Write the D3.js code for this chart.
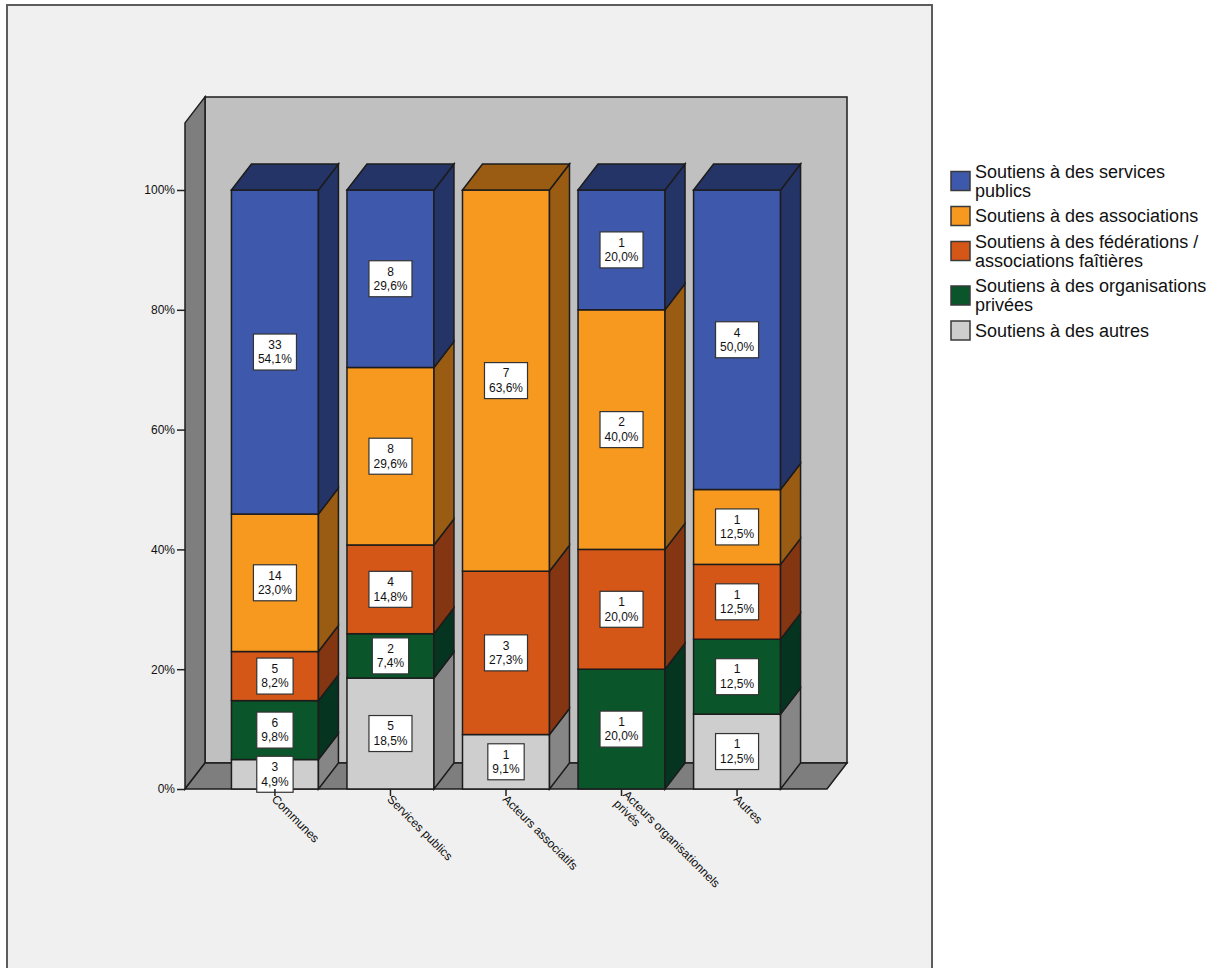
<!DOCTYPE html>
<html>
<head>
<meta charset="utf-8">
<script src="https://cdn.jsdelivr.net/npm/d3@7"></script>
<style>
  body { margin: 0; background: #ffffff; }
  svg { display: block; font-family: "Liberation Sans", Arial, sans-serif; }
</style>
</head>
<body>
<svg id="chart" width="1219" height="968"></svg>
<script>
// Categories on the x axis (label lines for the rotated tick labels)
const categories = ["Communes", "Services publics", "Acteurs associatifs", "Acteurs organisationnels privés", "Autres"];
const categoryLines = [["Communes"], ["Services publics"], ["Acteurs associatifs"], ["Acteurs organisationnels", "privés"], ["Autres"]];

// Series (legend order, top to bottom)
const seriesKeys = ["services", "associations", "federations", "privees", "autres"];
const seriesLegend = [
  ["Soutiens à des services", "publics"],
  ["Soutiens à des associations"],
  ["Soutiens à des fédérations /", "associations faîtières"],
  ["Soutiens à des organisations", "privées"],
  ["Soutiens à des autres"]
];

// Counts per category, one array per series
const servicesPublics      = [33, 8, 0, 1, 4];
const associations         = [14, 8, 7, 2, 1];
const federations          = [5, 4, 3, 1, 1];
const organisationsPrivees = [6, 2, 0, 1, 1];
const autres               = [3, 5, 1, 0, 1];

// Y axis ticks
const yTicks = [0, 0.2, 0.4, 0.6, 0.8, 1.0];
const yTickLabels = ["0%", "20%", "40%", "60%", "80%", "100%"];

// Colours: front face / shaded side and top faces
const frontColor = { services: "#3e58ab", associations: "#f7991f", federations: "#d45717", privees: "#0b552a", autres: "#cecece" };
const sideColor  = { services: "#243466", associations: "#9a5b13", federations: "#843511", privees: "#053520", autres: "#868686" };

const table = categories.map((c, i) => ({
  category: c,
  services: servicesPublics[i],
  associations: associations[i],
  federations: federations[i],
  privees: organisationsPrivees[i],
  autres: autres[i]
}));
const totals = table.map(r => seriesKeys.reduce((s, k) => s + r[k], 0));

const svg = d3.select("#chart");

// Outer panel
svg.append("rect")
  .attr("x", 7).attr("y", 5).attr("width", 925).attr("height", 990)
  .attr("fill", "#f0f0f0").attr("stroke", "#5c5c5c").attr("stroke-width", 2);

// Scales
const x = d3.scaleBand().domain(categories).range([185, 827]).paddingInner(0.247).paddingOuter(0.402);
const y = d3.scaleLinear().domain([0, 1]).range([789, 190]);
const yMax = 1.112;           // top of the 3D box
const DX = 20, DY = -26;      // depth offset of the 3D projection

const [xl, xr] = x.range();
const y0 = y(0), yTop = y(yMax);
const line = d3.line();
const edge = "#1c1c1c";

// Back wall
svg.append("path")
  .attr("d", line([[xl + DX, yTop + DY], [xr + DX, yTop + DY], [xr + DX, y0 + DY], [xl + DX, y0 + DY]]) + "Z")
  .attr("fill", "#c0c0c0").attr("stroke", edge).attr("stroke-width", 1.5);
// Left wall
svg.append("path")
  .attr("d", line([[xl, y0], [xl, yTop], [xl + DX, yTop + DY], [xl + DX, y0 + DY]]) + "Z")
  .attr("fill", "#7e7e7e").attr("stroke", edge).attr("stroke-width", 1.5);
// Floor
svg.append("path")
  .attr("d", line([[xl, y0], [xl + DX, y0 + DY], [xr + DX, y0 + DY], [xr, y0]]) + "Z")
  .attr("fill", "#7e7e7e").attr("stroke", edge).attr("stroke-width", 1.5);

// Stacked shares (bottom = "autres", top = "services")
const stack = d3.stack().keys(seriesKeys.slice().reverse()).offset(d3.stackOffsetExpand);
const layers = stack(table);

const bw = x.bandwidth();
const barsG = svg.append("g");
const labelsG = svg.append("g");

layers.forEach(layer => {
  const key = layer.key;
  layer.forEach((d, i) => {
    if (d[1] - d[0] <= 0) return;
    const x0 = x(d.data.category), x1 = x0 + bw;
    const yT = y(d[1]), yB = y(d[0]);
    // front face
    barsG.append("rect")
      .attr("x", x0).attr("y", yT).attr("width", bw).attr("height", yB - yT)
      .attr("fill", frontColor[key]).attr("stroke", edge).attr("stroke-width", 1.5);
    // right side face
    barsG.append("path")
      .attr("d", line([[x1, yT], [x1 + DX, yT + DY], [x1 + DX, yB + DY], [x1, yB]]) + "Z")
      .attr("fill", sideColor[key]).attr("stroke", edge).attr("stroke-width", 1.5);
    // top face on the highest segment
    if (Math.abs(d[1] - 1) < 1e-9) {
      barsG.append("path")
        .attr("d", line([[x0, yT], [x0 + DX, yT + DY], [x1 + DX, yT + DY], [x1, yT]]) + "Z")
        .attr("fill", sideColor[key]).attr("stroke", edge).attr("stroke-width", 1.5);
    }
    // value label: count and column percentage
    const count = d.data[key];
    const pct = d3.format(".1f")(count / totals[i] * 100).replace(".", ",") + "%";
    const g = labelsG.append("g")
      .attr("transform", `translate(${x0 + bw / 2},${(yT + yB) / 2})`);
    const box = g.append("rect").attr("fill", "#ffffff").attr("stroke", "#333").attr("stroke-width", 1.2);
    const tg = g.append("g").attr("transform", "scale(1,1.1)");
    const t1 = tg.append("text").attr("text-anchor", "middle").attr("y", -2.9)
      .attr("font-size", 12).attr("fill", "#111").text(count);
    const t2 = tg.append("text").attr("text-anchor", "middle").attr("y", 10.3)
      .attr("font-size", 12).attr("fill", "#111").text(pct);
    const w = Math.max(t1.node().getComputedTextLength(), t2.node().getComputedTextLength()) + 9;
    box.attr("x", -w / 2).attr("y", -18).attr("width", w).attr("height", 36);
  });
});

// Y axis (the wall edge serves as the axis line)
const yAxis = svg.append("g")
  .attr("transform", `translate(${xl},0)`)
  .call(d3.axisLeft(y).tickValues(yTicks).tickFormat((d, i) => yTickLabels[i]).tickSize(8).tickPadding(2));
yAxis.select(".domain").remove();
yAxis.selectAll(".tick line").attr("stroke", "#222").attr("stroke-width", 1.5);
yAxis.selectAll(".tick text").attr("font-size", 12).attr("fill", "#111")
  .attr("font-family", "'Liberation Sans', Arial, sans-serif");

// X axis ticks and rotated category labels
const xAxis = svg.append("g")
  .attr("transform", `translate(0,${y0})`)
  .call(d3.axisBottom(x).tickSize(7).tickFormat(""));
xAxis.select(".domain").remove();
xAxis.selectAll(".tick line").attr("stroke", "#222").attr("stroke-width", 1.5);

categories.forEach((c, i) => {
  const lines = categoryLines[i];
  const cx = x(c) + bw / 2;
  const t = svg.append("text")
    .attr("transform", `translate(${cx - 1},${y0 + 8}) rotate(45)`)
    .attr("font-size", 12).attr("fill", "#111");
  lines.forEach((ln, j) => {
    t.append("tspan").attr("x", 0)
      .attr("y", (j - (lines.length - 1) / 2) * 13)
      .attr("dy", "0.35em")
      .text(ln);
  });
});

// Legend
const legend = svg.append("g");
const lineH = 19, gap = 6.5;
let cy = 162;
seriesKeys.forEach((k, i) => {
  const lines = seriesLegend[i];
  const h = lines.length * lineH;
  const center = cy + h / 2;
  legend.append("rect")
    .attr("x", 951).attr("y", center - 9.5).attr("width", 19).attr("height", 19)
    .attr("fill", frontColor[k]).attr("stroke", "#3a3a3a").attr("stroke-width", 1.5);
  const t = legend.append("text").attr("font-size", 18).attr("fill", "#111");
  lines.forEach((ln, j) => {
    t.append("tspan").attr("x", 975)
      .attr("y", cy + j * lineH + lineH / 2)
      .attr("dy", "0.35em")
      .text(ln);
  });
  cy += h + gap;
});
</script>
</body>
</html>
